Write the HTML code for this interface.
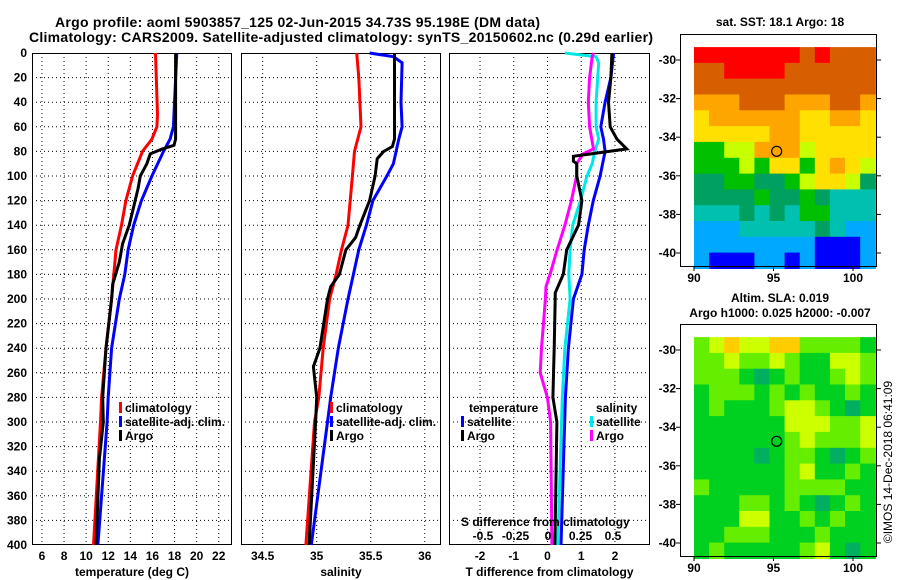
<!DOCTYPE html>
<html><head><meta charset="utf-8"><style>
html,body{margin:0;padding:0;background:#fff}
svg{display:block;font-family:"Liberation Sans",Arial,sans-serif;font-weight:bold}
</style></head><body>
<svg id="c" width="900" height="580" viewBox="0 0 900 580" xmlns="http://www.w3.org/2000/svg">
<text x="55" y="27" font-size="14" textLength="485">Argo profile: aoml 5903857_125 02-Jun-2015 34.73S 95.198E (DM data)</text>
<text x="29" y="42" font-size="14" textLength="624">Climatology: CARS2009. Satellite-adjusted climatology: synTS_20150602.nc (0.29d earlier)</text>
<g id="g"></g>
</svg>
<script>
// ---- data ----
const depthTicks=[0,20,40,60,80,100,120,140,160,180,200,220,240,260,280,300,320,340,360,380,400];
const tTicks=[6,8,10,12,14,16,18,20,22];
const sTicks=[34.5,35,35.5,36];
const dTTicks=[-2,-1,0,1,2];
const dSTicks=[-0.5,-0.25,0,0.25,0.5];
const dSTickLabels=["-0.5","-0.25","0","0.25","0.5"];
const lonTicks=[90,95,100];
const latTicks=[-30,-32,-34,-36,-38,-40];

const tClimD=[0,50,60,70,80,100,120,140,160,180,200,240,280,300,400];
const tClimV=[16.28,16.46,16.4,15.95,15.1,14.2,13.6,13.2,12.7,12.5,12.3,11.8,11.4,11.3,10.67];
const tSatD=[0,60,70,80,100,120,140,160,180,200,240,280,300,400];
const tSatV=[18.2,17.9,17.6,17.0,15.95,15.0,14.3,13.8,13.5,13.0,12.3,12.0,11.9,11.06];
const tArgoD=[0,70,75,78,82,90,100,110,125,140,155,170,188,200,240,280,300,330,400];
const tArgoV=[18.1,18.1,17.95,16.9,15.8,15.5,14.9,14.7,14.3,13.9,13.3,13.0,12.4,12.3,11.8,11.5,11.55,11.2,10.9];

const sClimD=[0,20,60,80,100,140,160,180,200,240,280,300,400];
const sClimV=[35.37,35.39,35.41,35.35,35.33,35.29,35.23,35.18,35.12,35.06,35.02,34.98,34.9];
const sSatD=[0,3,8,40,60,70,90,100,120,140,160,180,200,240,280,300,400];
const sSatV=[35.49,35.71,35.79,35.78,35.79,35.76,35.71,35.65,35.52,35.46,35.39,35.34,35.29,35.2,35.13,35.1,34.95];
const sArgoD=[0,70,76,80,86,100,120,140,150,160,180,190,200,240,255,280,300,400];
const sArgoV=[35.72,35.72,35.7,35.62,35.56,35.54,35.49,35.4,35.36,35.27,35.21,35.13,35.1,35.03,34.97,35.0,34.99,34.93];

const dTSatD=[0,20,40,60,70,80,100,120,140,160,180,200,240,280,400];
const dTSatV=[1.96,1.88,1.71,1.58,1.66,1.71,1.56,1.36,1.21,1.09,1.02,0.77,0.62,0.53,0.40];
const dTArgoD=[0,20,40,60,70,78,81,84,88,90,100,120,140,160,180,195,200,240,280,300,400];
const dTArgoV=[1.91,1.88,1.81,1.86,2.06,2.35,1.56,0.77,0.77,0.87,0.87,1.02,0.92,0.57,0.47,0.23,0.23,0.2,0.16,0.28,0.22];
const dSSatD=[0,3,8,40,60,70,80,90,100,120,140,160,180,200,240,280,400];
const dSSatV=[0.13,0.37,0.39,0.37,0.37,0.39,0.36,0.34,0.30,0.25,0.19,0.17,0.16,0.17,0.13,0.11,0.075];
const dSArgoD=[0,3,20,40,60,72,78,82,90,100,120,140,160,180,190,200,240,260,280,300,400];
const dSArgoV=[0.35,0.34,0.32,0.31,0.32,0.34,0.35,0.27,0.22,0.22,0.18,0.13,0.07,0.015,-0.015,-0.02,-0.05,-0.06,-0.005,0.02,0.03];

const sstColors=["#ff0000","#d85f00","#ffa500","#ffe000","#c8ff00","#00c000","#00a060","#00c0b0","#00a8ff","#0000ff"];
const sstGrid=[
[0,0,0,0,0,0,0,1,0,1,1,1],
[1,1,0,0,0,0,1,1,1,1,1,1],
[1,1,1,1,1,1,1,1,1,1,1,1],
[2,2,2,1,1,1,2,2,2,1,1,2],
[3,2,2,2,2,2,2,3,3,2,2,3],
[3,3,3,3,3,2,2,3,3,3,3,3],
[5,5,4,4,2,2,2,4,3,3,3,3],
[5,5,5,4,5,3,3,5,3,2,3,4],
[6,6,5,5,6,6,5,4,3,3,4,6],
[6,6,6,6,5,6,6,5,6,7,7,7],
[7,7,7,6,7,6,7,5,5,7,7,7],
[8,8,8,7,7,7,7,7,6,7,8,8],
[8,8,8,8,8,8,8,8,9,9,9,8],
[8,9,9,9,8,8,9,8,9,9,9,8]];
const slaColors=["#00b060","#00d020","#66ee00","#ccff00","#ffcc00"];
const slaGrid=[
[2,3,4,3,3,4,4,2,2,2,2,1],
[2,2,3,2,2,3,2,1,1,3,3,2],
[2,2,2,1,0,1,2,1,1,2,3,2],
[1,2,2,2,1,2,1,2,1,1,2,1],
[1,2,1,1,1,2,3,3,2,1,0,1],
[1,1,1,1,1,1,3,3,3,2,2,3],
[1,1,1,1,1,1,2,3,2,2,2,3],
[1,1,1,1,0,1,2,2,1,0,1,2],
[1,1,1,1,1,1,2,3,1,1,2,1],
[2,1,1,1,1,1,2,2,2,2,1,1],
[1,1,1,2,2,1,2,1,0,1,2,1],
[1,1,1,3,3,1,1,2,1,2,1,1],
[1,1,2,2,2,1,1,1,2,1,1,1],
[1,2,1,1,1,1,1,2,3,1,0,1]];
const argoLon=[95.2];
const argoLat=[-34.73];

// ---- drawing ----
const NS='http://www.w3.org/2000/svg';
const G=document.getElementById('g');
function mk(tag,attrs,parent){const e=document.createElementNS(NS,tag);for(const k in attrs)e.setAttribute(k,attrs[k]);(parent||G).appendChild(e);return e;}
const yTop=53,yBot=545;
const yD=d=>yTop+d/400*(yBot-yTop);
function lin(d0,d1,r0,r1){return v=>r0+(v-d0)/(d1-d0)*(r1-r0);}
const panels=[
 {x0:32,x1:232,sc:lin(5.1,23.2,32,232),ticks:tTicks,labels:tTicks.map(String),title:'temperature (deg C)',name:'temperature-panel'},
 {x0:241,x1:441,sc:lin(34.3,36.15,241,441),ticks:sTicks,labels:["34.5","35","35.5","36"],title:'salinity',name:'salinity-panel'},
 {x0:449,x1:650,sc:lin(-2.92,3.04,449,650),ticks:dTTicks,labels:dTTicks.map(String),title:'T difference from climatology',name:'difference-panel'}
];
panels.forEach((p,pi)=>{
 const g=mk('g',{});
 
 
 depthTicks.forEach(d=>{
  const y=yD(d);
  if(d>0&&d<400){const l=mk('line',{x1:p.x0,x2:p.x1,y1:y,y2:y,stroke:'#000','stroke-width':1,'stroke-dasharray':'1,3'},g);
  }
  if(pi===0){const t=mk('text',{x:27,y:y+4,'font-size':12,'text-anchor':'end'},g);t.textContent=d;
  }
 });
 p.ticks.forEach((v,i)=>{
  const x=p.sc(v);
  const l=mk('line',{x1:x,x2:x,y1:yTop,y2:yBot,stroke:'#000','stroke-width':1,'stroke-dasharray':'1,3'},g);
  
  const t=mk('text',{x:x,y:560,'font-size':12,'text-anchor':'middle'},g);t.textContent=p.labels[i];
  
 });
 const r=mk('rect',{x:p.x0+0.5,y:yTop+0.5,width:p.x1-p.x0-1,height:yBot-yTop-1,fill:'none',stroke:'#000','stroke-width':1},g);
 
 const tt=mk('text',{x:(p.x0+p.x1)/2,y:576,'font-size':12,'text-anchor':'middle'},g);tt.textContent=p.title;
 
});
const sScale=lin(0,0.5,548,613);
function series(D,V,sc,color,name){
 const pts=D.map((d,i)=>sc(V[i]).toFixed(1)+','+yD(d).toFixed(1)).join(' ');
 const pl=mk('polyline',{points:pts,fill:'none',stroke:color,'stroke-width':3,'stroke-linejoin':'miter'});
 
 
}
series(tClimD,tClimV,panels[0].sc,'#ff0000','temperature-climatology-line');
series(tSatD,tSatV,panels[0].sc,'#0000ff','temperature-satellite-line');
series(tArgoD,tArgoV,panels[0].sc,'#000000','temperature-argo-line');
series(sClimD,sClimV,panels[1].sc,'#ff0000','salinity-climatology-line');
series(sSatD,sSatV,panels[1].sc,'#0000ff','salinity-satellite-line');
series(sArgoD,sArgoV,panels[1].sc,'#000000','salinity-argo-line');
series(dSSatD,dSSatV,sScale,'#00e8e8','s-diff-satellite-line');
series(dSArgoD,dSArgoV,sScale,'#ff00ff','s-diff-argo-line');
series(dTSatD,dTSatV,panels[2].sc,'#0000ff','t-diff-satellite-line');
series(dTArgoD,dTArgoV,panels[2].sc,'#000000','t-diff-argo-line');

function legend(x,y,color,label,name){
 const g=mk('g',{});
 
 
 mk('rect',{x:x,y:y-10,width:3,height:11,fill:color},g);
 const t=mk('text',{x:x+6,y:y,'font-size':12},g);t.textContent=label;
}
legend(119,412,'#ff0000','climatology','legend-climatology');
legend(119,426,'#0000ff','satellite-adj. clim.','legend-satellite-adj');
legend(119,440,'#000000','Argo','legend-argo');
legend(330,412,'#ff0000','climatology','legend-climatology-2');
legend(330,426,'#0000ff','satellite-adj. clim.','legend-satellite-adj-2');
legend(330,440,'#000000','Argo','legend-argo-2');
let t=mk('text',{x:469,y:412,'font-size':12});t.textContent='temperature';

t=mk('text',{x:596,y:412,'font-size':12});t.textContent='salinity';

legend(461,426,'#0000ff','satellite','legend-t-satellite');
legend(461,440,'#000000','Argo','legend-t-argo');
legend(590,426,'#00e8e8','satellite','legend-s-satellite');
legend(590,440,'#ff00ff','Argo','legend-s-argo');
t=mk('text',{x:461,y:526,'font-size':12});t.textContent='S difference from climatology';

dSTicks.forEach((v,i)=>{const e=mk('text',{x:sScale(v),y:540,'font-size':12,'text-anchor':'middle'});e.textContent=dSTickLabels[i];
 });

// maps
function map(top,grid,colors,name,titles){
 const g=mk('g',{});
 
 
 const fx0=680,fx1=877,fy0=top,fy1=top+233;
 const lonS=lin(90,100,694,853), latS=lin(-30,-40,top+26,top+219);
 const lon0=90,lon1=101.4,lat0=-29.33,lat1=-40.8;
 const nr=grid.length,nc=grid[0].length;
 grid.forEach((row,ri)=>row.forEach((v,ci)=>{
  const xa=lonS(lon0+(lon1-lon0)*ci/nc), xb=lonS(lon0+(lon1-lon0)*(ci+1)/nc);
  const ya=latS(lat0+(lat1-lat0)*ri/nr), yb=latS(lat0+(lat1-lat0)*(ri+1)/nr);
  const c=mk('rect',{x:xa.toFixed(1),y:ya.toFixed(1),width:(xb-xa+0.6).toFixed(1),height:(yb-ya+0.6).toFixed(1),fill:colors[v]},g);
  
  
 }));
 mk('rect',{x:fx0+0.5,y:fy0+0.5,width:fx1-fx0-1,height:fy1-fy0-1,fill:'none',stroke:'#000'},g);
 lonTicks.forEach(v=>{const x=lonS(v);mk('line',{x1:x,x2:x,y1:fy1,y2:fy1+4,stroke:'#000'},g);
  const e=mk('text',{x:x,y:fy1+15,'font-size':12,'text-anchor':'middle'},g);e.textContent=v;
  });
 latTicks.forEach(v=>{const y=latS(v);mk('line',{x1:fx0-4,x2:fx0,y1:y,y2:y,stroke:'#000'},g);mk('line',{x1:fx1,x2:fx1+4,y1:y,y2:y,stroke:'#000'},g);
  const e=mk('text',{x:fx0-4,y:y+4,'font-size':12,'text-anchor':'end'},g);e.textContent=v;
  });
 argoLon.forEach((lo,i)=>{const c=mk('circle',{cx:lonS(lo),cy:latS(argoLat[i]),r:5,fill:'none',stroke:'#000','stroke-width':1.2},g);
  });
 titles.forEach((s,i)=>{const e=mk('text',{x:780,y:s[1],'font-size':12,'text-anchor':'middle'},g);e.textContent=s[0];
  });
}
map(34,sstGrid,sstColors,'sst-map',[['sat. SST: 18.1 Argo: 18',26]]);
map(324,slaGrid,slaColors,'sla-map',[['Altim. SLA: 0.019',302],['Argo h1000: 0.025 h2000: -0.007',317]]);
t=mk('text',{x:0,y:0,'font-size':12,'font-weight':'normal','text-anchor':'middle',transform:'translate(892,462) rotate(-90)'});
t.textContent='©IMOS 14-Dec-2018 06:41:09';

</script>
</body></html>
